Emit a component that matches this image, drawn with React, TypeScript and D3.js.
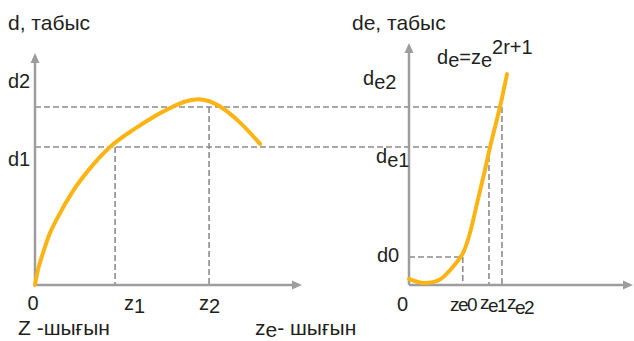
import React from 'react'
import * as d3 from 'd3'

// curve points, in plot units (0..100 on both axes)
const incomeCurve: [number, number][] = [
  [0, 0], [1.1, 6.5], [3, 13.8], [5.6, 22.4], [8.2, 28.5], [14.2, 40.5], [19.9, 49.3],
  [28.1, 59.5], [38, 67.8], [49.4, 75.6], [57, 79.3], [61, 80.1], [65, 79.3], [70, 76.4], [76.8, 70], [84.3, 60.8],
]
const eCurve: [number, number][] = [
  [0, 2.6], [6.25, 0.9], [13.8, 2.4], [19.6, 7.8], [24.1, 13.8], [27.2, 22.4],
  [30.4, 35.3], [33.9, 49.6], [36.2, 59.5], [40.6, 76.7], [43.75, 90.9],
]

const dLevels = [59.5, 76.7]          // d1, d2
const zValues = [30, 65.2]            // z1, z2
const zeValues = [24, 35.7, 41.5]     // ze0, ze1, ze2
const zeLevels = [12.1, 59.5, 76.7]   // d0, de1, de2

const W = 634
const H = 341
const FONT = '"Liberation Sans", Arial, sans-serif'
const ORANGE = '#fcb415'
const AXIS = '#9d9d9f'
const DASH = '#8c8c8c'
const TXT = '#231f20'

export default function App() {
  const xL = d3.scaleLinear().domain([0, 100]).range([35, 302])
  const xR = d3.scaleLinear().domain([0, 100]).range([409, 633])
  const y = d3.scaleLinear().domain([0, 100]).range([285, 53])

  const lineL = d3.line<[number, number]>().x(d => xL(d[0])).y(d => y(d[1])).curve(d3.curveMonotoneX)
  const lineR = d3.line<[number, number]>().x(d => xR(d[0])).y(d => y(d[1])).curve(d3.curveCatmullRom.alpha(0.5))

  const dash = { stroke: DASH, strokeWidth: 1.6, strokeDasharray: '6,3', fill: 'none' }
  const y0 = y(0)

  const arrowUp = (x: number, tip: number) => `M${x},${tip} L${x - 4.5},${tip + 10} L${x + 4.5},${tip + 10} Z`
  const arrowRight = (tip: number, yy: number) => `M${tip},${yy} L${tip - 10},${yy - 4.5} L${tip - 10},${yy + 4.5} Z`

  return (
    <svg width={W} height={H} style={{ position: 'absolute', left: 0, top: 0, background: '#fff' }}
      fontFamily={FONT} fontSize={20} fill={TXT}>
      {/* dashed guide lines */}
      <line x1={xL(0)} x2={xR(zeValues[1])} y1={y(dLevels[0])} y2={y(dLevels[0])} {...dash} />
      <line x1={xL(0)} x2={xR(zeValues[2])} y1={y(dLevels[1])} y2={y(dLevels[1])} {...dash} />
      <line x1={xR(0)} x2={xR(zeValues[0])} y1={y(zeLevels[0])} y2={y(zeLevels[0])} {...dash} />
      {zValues.map((z, i) => (
        <line key={'z' + i} x1={xL(z)} x2={xL(z)} y1={y(dLevels[i])} y2={y0} {...dash} />
      ))}
      {zeValues.map((z, i) => (
        <line key={'ze' + i} x1={xR(z)} x2={xR(z)} y1={y(zeLevels[i])} y2={y0} {...dash} />
      ))}

      {/* axes */}
      <line x1={xL(0)} x2={xL(0)} y1={y0} y2={62} stroke={AXIS} strokeWidth={2.5} />
      <line x1={xL(0)} x2={293} y1={y0} y2={y0} stroke={AXIS} strokeWidth={2.5} />
      <path d={arrowUp(xL(0), 53)} fill={AXIS} />
      <path d={arrowRight(302, y0)} fill={AXIS} />
      <line x1={xR(0)} x2={xR(0)} y1={y0} y2={52} stroke={AXIS} strokeWidth={2.5} />
      <line x1={xR(0)} x2={624} y1={y0} y2={y0} stroke={AXIS} strokeWidth={2.5} />
      <path d={arrowUp(xR(0), 43)} fill={AXIS} />
      <path d={arrowRight(633, y0)} fill={AXIS} />

      {/* curves */}
      <path d={lineL(incomeCurve) ?? ''} fill="none" stroke={ORANGE} strokeWidth={4} strokeLinecap="round" />
      <path d={lineR(eCurve) ?? ''} fill="none" stroke={ORANGE} strokeWidth={4} strokeLinecap="round" />

      {/* left chart labels */}
      <text x={8} y={30} fontSize={21}>d, табыс</text>
      <text x={8} y={88}>d2</text>
      <text x={8} y={166}>d1</text>
      <text x={33} y={310} textAnchor="middle">0</text>
      <text x={124} y={310}>z<tspan dy={3}>1</tspan></text>
      <text x={199} y={310}>z<tspan dy={3}>2</tspan></text>
      <text x={18} y={335} fontSize={21}>Z -шығын</text>
      <text x={255} y={335} fontSize={21}>z<tspan dy={2}>e</tspan><tspan dy={-2}>- шығын</tspan></text>

      {/* right chart labels */}
      <text x={352} y={30} fontSize={21}>de, табыс</text>
      <text x={437} y={64}>d<tspan dy={3}>e</tspan><tspan dy={-3}>=z</tspan><tspan dy={3}>e</tspan><tspan dy={-13}>2r+1</tspan></text>
      <text x={363} y={85}>d<tspan dy={4}>e2</tspan></text>
      <text x={376} y={163}>d<tspan dy={4}>e1</tspan></text>
      <text x={377} y={262}>d0</text>
      <text x={397} y={311}>0</text>
      <g fontSize={19} letterSpacing={-1.5}>
        <text x={450} y={311}>ze0</text>
        <text x={480} y={309}>z<tspan dy={3}>e1</tspan></text>
        <text x={507} y={309}>z<tspan dy={5}>e2</tspan></text>
      </g>
    </svg>
  )
}
